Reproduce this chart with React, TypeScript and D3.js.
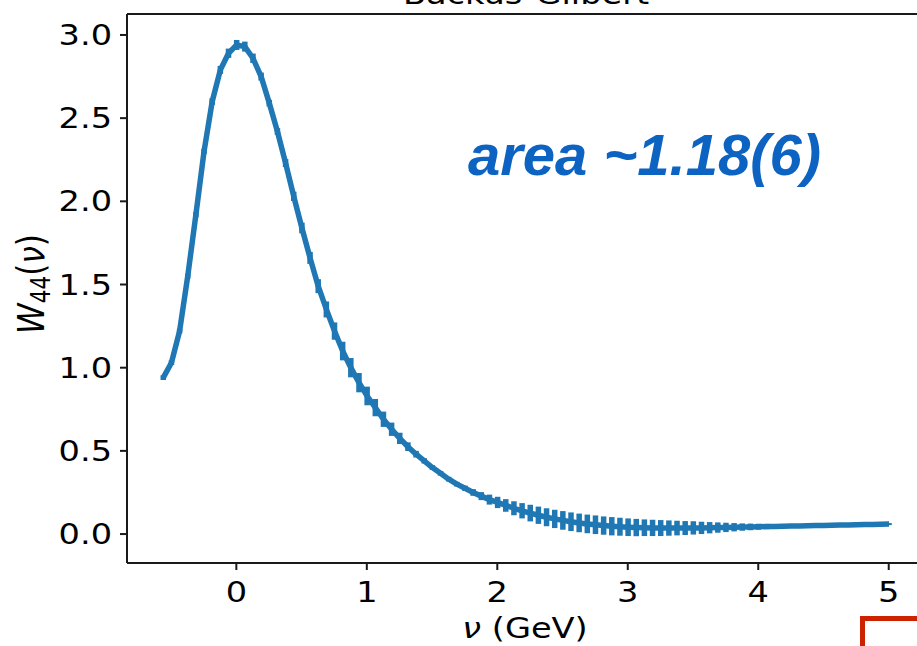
import React from 'react';
import * as d3 from 'd3';

// energy grid (GeV) and the Backus-Gilbert smeared W44 with its errors
const NU = [
  -0.56, -0.4975, -0.435, -0.3725, -0.31, -0.2475, -0.185, -0.1225, -0.06, 0.0025,
  0.065, 0.1275, 0.19, 0.2525, 0.315, 0.3775, 0.44, 0.5025, 0.565, 0.6275,
  0.69, 0.7525, 0.815, 0.8775, 0.94, 1.0025, 1.065, 1.1275, 1.19, 1.2525,
  1.315, 1.3775, 1.44, 1.5025, 1.565, 1.6275, 1.69, 1.7525, 1.815, 1.8775,
  1.94, 2.0025, 2.065, 2.1275, 2.19, 2.2525, 2.315, 2.3775, 2.44, 2.5025,
  2.565, 2.6275, 2.69, 2.7525, 2.815, 2.8775, 2.94, 3.0025, 3.065, 3.1275,
  3.19, 3.2525, 3.315, 3.3775, 3.44, 3.5025, 3.565, 3.6275, 3.69, 3.7525,
  3.815, 3.8775, 3.94, 4.0025, 4.065, 4.1275, 4.19, 4.2525, 4.315, 4.3775,
  4.44, 4.5025, 4.565, 4.6275, 4.69, 4.7525, 4.815, 4.8775, 4.94, 5.0025,
];

const W44 = [
  0.94, 1.03, 1.22, 1.55, 1.92, 2.30, 2.60, 2.79, 2.89, 2.94,
  2.93, 2.86, 2.75, 2.59, 2.42, 2.23, 2.03, 1.84, 1.66, 1.49,
  1.35, 1.22, 1.10, 1.00, 0.91, 0.83, 0.76, 0.69, 0.63, 0.575,
  0.525, 0.48, 0.44, 0.40, 0.365, 0.33, 0.30, 0.275, 0.25, 0.228,
  0.207, 0.19, 0.172, 0.155, 0.14, 0.126, 0.113, 0.101, 0.091, 0.082,
  0.074, 0.067, 0.061, 0.056, 0.051, 0.047, 0.044, 0.041, 0.039, 0.038,
  0.037, 0.036, 0.036, 0.036, 0.036, 0.037, 0.037, 0.038, 0.039, 0.040,
  0.041, 0.042, 0.043, 0.044, 0.045, 0.046, 0.047, 0.048, 0.049, 0.050,
  0.051, 0.052, 0.053, 0.054, 0.055, 0.056, 0.057, 0.058, 0.059, 0.060,
];

const ERR = [
  0.014, 0.014, 0.014, 0.014, 0.016, 0.016, 0.02, 0.024, 0.028, 0.03,
  0.03, 0.028, 0.024, 0.02, 0.02, 0.024, 0.028, 0.032, 0.036, 0.042,
  0.048, 0.052, 0.056, 0.058, 0.058, 0.056, 0.052, 0.046, 0.04, 0.034,
  0.026, 0.02, 0.016, 0.014, 0.014, 0.014, 0.014, 0.016, 0.02, 0.024,
  0.03, 0.034, 0.038, 0.042, 0.046, 0.05, 0.052, 0.054, 0.055, 0.056,
  0.056, 0.056, 0.056, 0.056, 0.055, 0.055, 0.054, 0.053, 0.052, 0.05,
  0.049, 0.048, 0.046, 0.044, 0.042, 0.04, 0.037, 0.034, 0.031, 0.028,
  0.025, 0.022, 0.02, 0.018, 0.016, 0.014, 0.012, 0.01, 0.009, 0.008,
  0.007, 0.006, 0.006, 0.006, 0.006, 0.006, 0.006, 0.006, 0.006, 0.006,
];

const X_TICKS = [0, 1, 2, 3, 4, 5];
const Y_TICKS = [0, 0.5, 1.0, 1.5, 2.0, 2.5, 3.0];

const W = 917;
const H = 646;
const BLUE = '#1f77b4';
const FONT = '"DejaVu Sans", sans-serif';
const SX = 1.2; // the source figure is stretched horizontally

export default function App() {
  const x = d3.scaleLinear().domain([-0.838, 5.278]).range([127, 925]);
  const y = d3.scaleLinear().domain([-0.174, 3.126]).range([563, 14]);

  const pts = NU.map((v, i) => ({ nu: v, w: W44[i], e: ERR[i] }));
  const line = d3.line<{ nu: number; w: number }>()
    .x(d => x(d.nu))
    .y(d => y(d.w));

  const [x0, x1] = x.range();
  const [y0, y1] = y.range();

  return (
    <div style={{ position: 'absolute', left: 0, top: 0 }}>
      <svg width={W} height={H} style={{ display: 'block', background: '#fff' }}>
        {/* title, mostly cut off at the top as in the source */}
        <text
          transform={`translate(526,4) scale(${SX},1)`}
          textAnchor="middle"
          fontFamily={FONT}
          fontSize={28}
          fill="#000"
        >
          Backus-Gilbert
        </text>

        {/* error bars */}
        <g stroke={BLUE} strokeWidth={5.5}>
          {pts.map((d, i) => (
            <line key={i} x1={x(d.nu)} x2={x(d.nu)} y1={y(d.w - d.e)} y2={y(d.w + d.e)} />
          ))}
        </g>
        <path d={line(pts) || ''} fill="none" stroke={BLUE} strokeWidth={5.5} strokeLinejoin="round" />

        {/* spines */}
        <g stroke="#1a1a1a" strokeWidth={2} fill="none">
          <line x1={x0} x2={x0} y1={y1} y2={y0} />
          <line x1={x0} x2={x1} y1={y0} y2={y0} />
          <line x1={x0} x2={x1} y1={y1} y2={y1} />
          <line x1={x1} x2={x1} y1={y1} y2={y0} />
        </g>

        {/* x axis */}
        {X_TICKS.map(t => (
          <g key={t}>
            <line x1={x(t)} x2={x(t)} y1={y0} y2={y0 + 7} stroke="#1a1a1a" strokeWidth={2} />
            <text
              transform={`translate(${x(t)},602) scale(${SX},1)`}
              textAnchor="middle"
              fontFamily={FONT}
              fontSize={28}
            >
              {t}
            </text>
          </g>
        ))}

        {/* y axis */}
        {Y_TICKS.map(t => (
          <g key={t}>
            <line x1={x0 - 7} x2={x0} y1={y(t)} y2={y(t)} stroke="#1a1a1a" strokeWidth={2} />
            <text
              transform={`translate(112,${y(t) + 10}) scale(${SX},1)`}
              textAnchor="end"
              fontFamily={FONT}
              fontSize={28}
            >
              {t.toFixed(1)}
            </text>
          </g>
        ))}

        {/* axis labels */}
        <text
          transform={`translate(525,638) scale(${SX},1)`}
          textAnchor="middle"
          fontFamily={FONT}
          fontSize={28}
        >
          <tspan fontStyle="italic">ν</tspan> (GeV)
        </text>
        <text
          transform={`translate(44,284) scale(${SX},1) rotate(-90)`}
          textAnchor="middle"
          fontFamily={FONT}
          fontSize={31}
        >
          <tspan fontStyle="italic">W</tspan>
          <tspan fontSize={21.7} dy={5}>44</tspan>
          <tspan dy={-5}>(</tspan>
          <tspan fontStyle="italic">ν</tspan>
          <tspan>)</tspan>
        </text>

        {/* annotation */}
        <text
          x={468}
          y={175}
          fontFamily='"Liberation Sans", Arial, sans-serif'
          fontWeight="bold"
          fontStyle="italic"
          fontSize={58}
          fill="#0d63c2"
        >
          area ~1.18(6)
        </text>

        {/* red frame corner at the bottom right */}
        <path d="M862.5,646 V618.5 H917" fill="none" stroke="#cc2200" strokeWidth={5} />
      </svg>
    </div>
  );
}
